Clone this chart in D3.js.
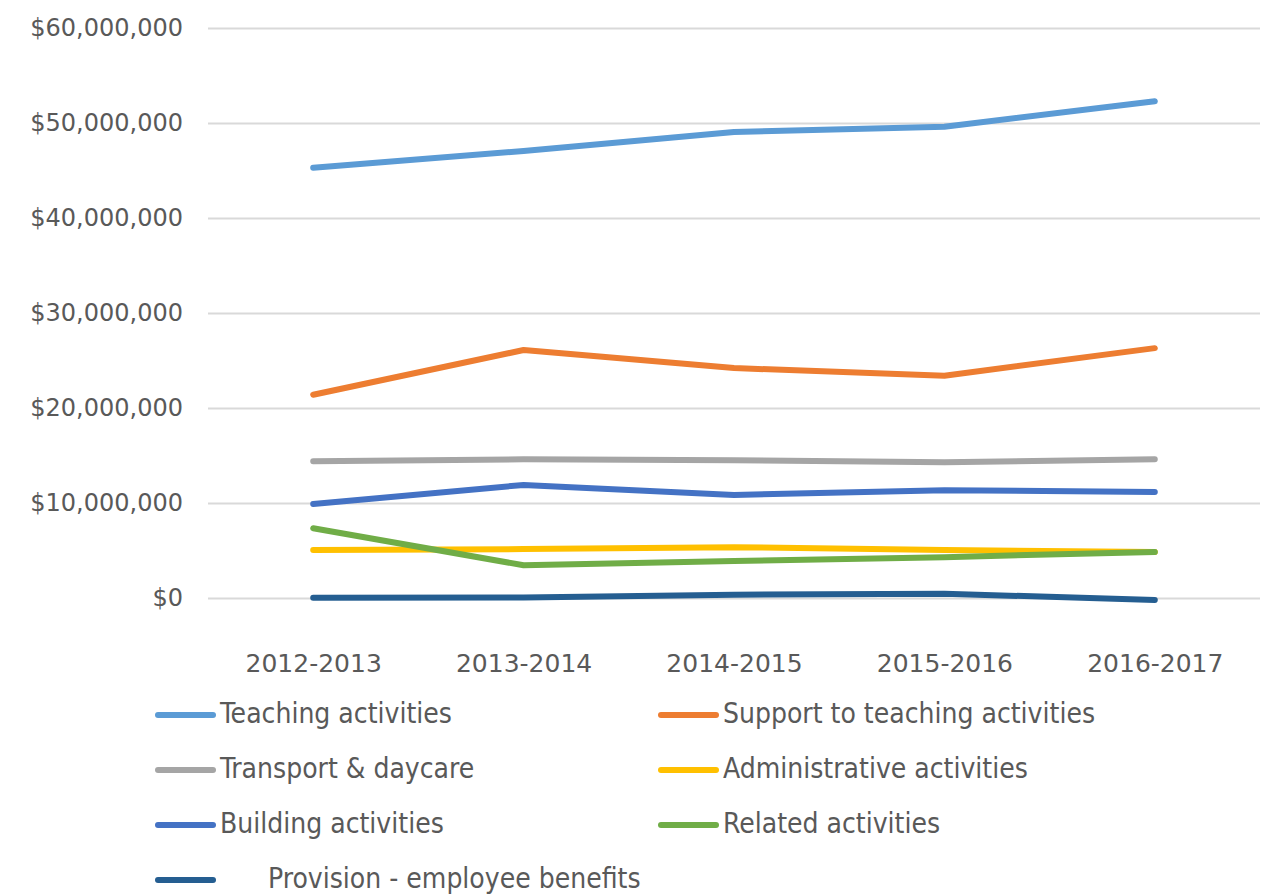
<!DOCTYPE html>
<html>
<head>
<meta charset="utf-8">
<script src="https://cdn.jsdelivr.net/npm/d3@7"></script>
<style>
  body { margin: 0; background: #fff; }
  text { font-family: "DejaVu Sans", sans-serif; fill: #595959; }
</style>
</head>
<body>
<div class="canvas"></div>
<script>
// data
const years = ['2012-2013', '2013-2014', '2014-2015', '2015-2016', '2016-2017'];
const teaching = [45.3e6, 47.05e6, 49.05e6, 49.6e6, 52.3e6];
const support = [21.4e6, 26.1e6, 24.2e6, 23.4e6, 26.3e6];
const transport = [14.4e6, 14.6e6, 14.5e6, 14.3e6, 14.6e6];
const admin = [5.05e6, 5.15e6, 5.35e6, 5.05e6, 4.85e6];
const building = [9.9e6, 11.9e6, 10.85e6, 11.35e6, 11.15e6];
const related = [7.35e6, 3.45e6, 3.9e6, 4.3e6, 4.85e6];
const provision = [0.02e6, 0.05e6, 0.35e6, 0.45e6, -0.2e6];
const yTicks = [0, 10e6, 20e6, 30e6, 40e6, 50e6, 60e6];

const series = [
    {name: 'Teaching activities', values: teaching, color: '#5B9BD5'},
    {name: 'Support to teaching activities', values: support, color: '#ED7D31'},
    {name: 'Transport & daycare', values: transport, color: '#A5A5A5'},
    {name: 'Administrative activities', values: admin, color: '#FFC000'},
    {name: 'Building activities', values: building, color: '#4472C4'},
    {name: 'Related activities', values: related, color: '#70AD47'},
    {name: 'Provision - employee benefits', values: provision, color: '#255E91'}
];

const svg = d3.select('.canvas')
    .append('svg')
    .attr('width', 1274)
    .attr('height', 895);

const margin = {top: 28, left: 208, right: 14};
const plotBottom = 598;

const x = d3.scalePoint()
    .domain(years)
    .range([margin.left, 1274 - margin.right])
    .padding(0.5);

const y = d3.scaleLinear()
    .domain([0, 60e6])
    .range([plotBottom, margin.top]);

// gridlines + y labels
const yAxis = d3.axisLeft(y)
    .tickValues(yTicks)
    .tickSize(-(1274 - margin.right - margin.left))
    .tickPadding(25)
    .tickFormat(d => '$' + d3.format(',')(d));

svg.append('g')
    .attr('transform', `translate(${margin.left},0)`)
    .call(yAxis)
    .call(g => g.select('.domain').remove())
    .call(g => g.selectAll('line').attr('stroke', '#d9d9d9').attr('stroke-width', 2))
    .call(g => g.selectAll('text').attr('font-size', 24).attr('fill', '#595959'));

// x labels
const xAxis = d3.axisBottom(x).tickSize(0).tickPadding(56);
svg.append('g')
    .attr('transform', `translate(0,${plotBottom})`)
    .call(xAxis)
    .call(g => g.select('.domain').remove())
    .call(g => g.selectAll('text').attr('font-size', 25).attr('fill', '#595959'));

// lines
const line = d3.line()
    .x((d, i) => x(years[i]))
    .y(d => y(d));

svg.append('g').selectAll('path')
    .data(series)
    .enter().append('path')
    .attr('d', d => line(d.values))
    .attr('fill', 'none')
    .attr('stroke', d => d.color)
    .attr('stroke-width', 6)
    .attr('stroke-linecap', 'round')
    .attr('stroke-linejoin', 'round');

// legend
const legend = svg.append('g');
const items = legend.selectAll('g')
    .data(series)
    .enter().append('g')
    .attr('transform', (d, i) => `translate(${i % 2 ? 658 : 155},${715 + Math.floor(i / 2) * 55})`);

items.append('line')
    .attr('x1', 3).attr('x2', 58)
    .attr('stroke', d => d.color)
    .attr('stroke-width', 6)
    .attr('stroke-linecap', 'round');

items.append('text')
    .attr('x', (d, i) => i === 6 ? 113 : 65)
    .attr('dy', '0.3em')
    .attr('font-size', 28)
    .style('font-family', '"DejaVu Sans Condensed", "DejaVu Sans", sans-serif')
    .text(d => d.name);
</script>
</body>
</html>
